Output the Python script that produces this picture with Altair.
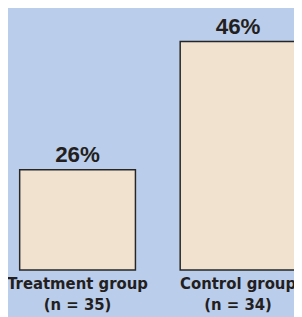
import altair as alt
import pandas as pd

groups = ["Treatment group", "Control group"]
n_sizes = [35, 34]
percents = [26, 46]

df = pd.DataFrame({
    "group": [f"{g}\n(n = {n})" for g, n in zip(groups, n_sizes)],
    "pct": percents,
    "label": [f"{p}%" for p in percents],
})

x_enc = alt.X(
    "group:N",
    sort=None,
    scale=alt.Scale(range=[12, 296], paddingInner=0.2788, paddingOuter=0),
    axis=alt.Axis(
        title=None,
        domain=False,
        ticks=False,
        labelAngle=0,
        labelExpr="split(datum.label, '\\n')",
        labelFont="DejaVu Sans Condensed, sans-serif",
        labelFontWeight="bold",
        labelFontSize=17,
        labelLineHeight=22,
        labelColor="#231F20",
        labelPadding=6,
        labelBaseline="top",
        labelOverlap=False,
        labelBound=False,
        labelFlush=False,
    ),
)
y_enc = alt.Y(
    "pct:Q",
    scale=alt.Scale(domain=[10.4, 50.55], zero=False, nice=False, clamp=True),
    axis=None,
)

bars = alt.Chart(df).mark_bar(
    color="#F1E2CF", stroke="#262626", strokeWidth=1.5
).encode(x=x_enc, y=y_enc)

text = alt.Chart(df).mark_text(
    baseline="alphabetic", dy=-8, fontSize=23, fontWeight="bold",
    font="Liberation Sans, Arial, sans-serif", color="#231F20"
).encode(x=x_enc, y=y_enc, text="label:N")

chart = alt.layer(bars, text).properties(
    width=294,
    height=265,
    autosize=alt.AutoSizeParams(type="none"),
    padding={"left": 0, "top": 0, "right": 0, "bottom": 44},
    background="#BACDEB",
).configure_view(stroke=None)

chart.save("out.html", embed_options={"renderer": "svg", "actions": False})
